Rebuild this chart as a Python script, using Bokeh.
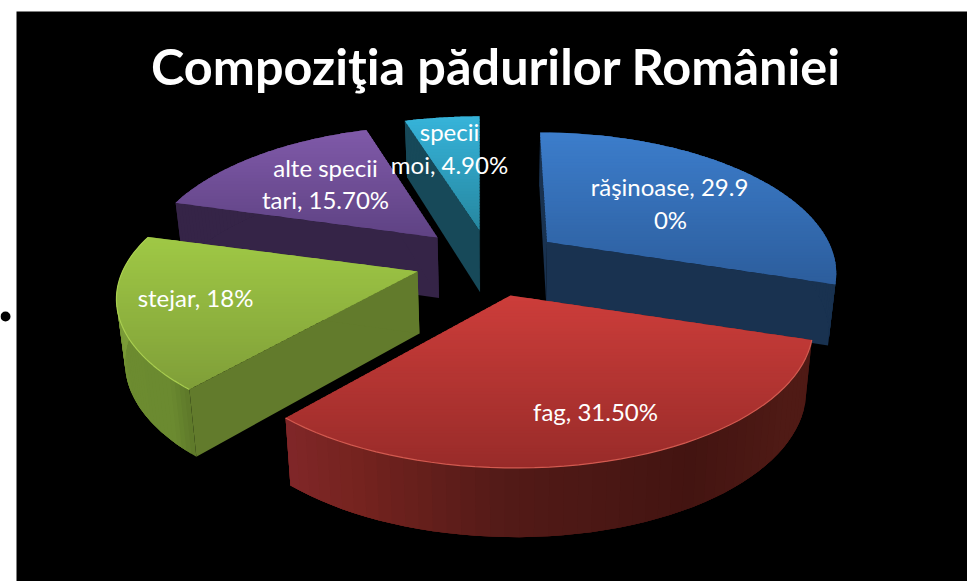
import numpy as np
from bokeh.embed import file_html
from bokeh.models import ColumnDataSource, Range1d
from bokeh.plotting import figure
from bokeh.resources import INLINE
from bokeh.core.properties import value

# ---- data -------------------------------------------------------------
title_text = "Compoziţia pădurilor României"
categories = ["răşinoase", "fag", "stejar", "alte specii tari", "specii moi"]
values = [29.9, 31.5, 18.0, 15.7, 4.9]
label_lines = [["răşinoase, 29.9", "0%"], ["fag, 31.50%"], ["stejar, 18%"],
               ["alte specii", "tari, 15.70%"], ["specii", "moi, 4.90%"]]

# ---- style / placement --------------------------------------------------
W, H = 967, 581
apex = [(546.5, 241.5), (510, 295), (417, 271), (437, 237), (479, 230)]
scale = [0.988, 1.0375, 1.035, 1.01, 1.03]
yscale = [1.0, 1.0, 0.965, 1.0, 1.0]
skew = [0.063, 0.03, 0.0, -0.02, 0.0]
top_grad = [("#3c7dcb", "#2c5d9c"), ("#cc3d3a", "#982b29"), ("#9fc845", "#7f9e38"),
            ("#7f59a8", "#5e4283"), ("#36b3d9", "#26869f")]
cut_col = ["#193250", "#4a1714", "#627b2c", "#352447", "#174959"]
side_stops = [
    [(90, "#193250"), (108, "#193250")],
    [(0, "#4f1a15"), (125, "#4f1a15"), (150, "#431411"), (180, "#521a17"), (205, "#75231f"), (222, "#82272a")],
    [(221, "#5f7a2a"), (226, "#6b8a30"), (245, "#6c8b30"), (262, "#7b9c38"), (290, "#7b9c38")],
    [(285, "#352447"), (345, "#352447")],
    [(342, "#174959"), (360, "#174959")],
]
rim_col = ["#3f80cf", "#d25a50", "#a9ce50", "#7f59a8", "#36b3d9"]
draw_order = [3, 4, 0, 2, 1]
A, B, D, DEPTH = 285.0, 133.0, 0.2, 60.0
LEAN_X, LEAN = 505.0, 0.022
label_pos = [[(669, 186), (670, 219)], [(595, 411)], [(195, 297)],
             [(325, 167), (325, 199)], [(449, 131), (449, 164)]]


def hex2rgb(c):
    return np.array([int(c[i:i + 2], 16) for i in (1, 3, 5)], float)


def rgb2hex(a):
    return "#%02x%02x%02x" % tuple(int(round(v)) for v in a)


def mix(c1, c2, t):
    return rgb2hex(hex2rgb(c1) * (1 - t) + hex2rgb(c2) * t)


def stop_color(stops, th):
    if th <= stops[0][0]:
        return stops[0][1]
    for (a, ca), (b, cb) in zip(stops, stops[1:]):
        if th <= b:
            return mix(ca, cb, (th - a) / (b - a))
    return stops[-1][1]


def rim(i, deg):
    t = np.radians(deg)
    w = 1 + D * np.cos(t)
    dx = A * np.sin(t) / w * scale[i]
    dy = -B * np.cos(t) / w * scale[i] * yscale[i]
    x = apex[i][0] + dx + skew[i] * dy
    y = apex[i][1] + dy
    return x, y, w


def drop(i, x, y, w):
    h = DEPTH * scale[i] / (1 + 0.5 * (w - 1))
    return x + (LEAN_X - x) * LEAN, y + h


def clip_band(poly, y0, y1):
    def clip(pts, keep, cross):
        out = []
        for k in range(len(pts)):
            a, b = pts[k], pts[(k + 1) % len(pts)]
            if keep(a):
                out.append(a)
            if keep(a) != keep(b):
                out.append(cross(a, b))
        return out
    c = lambda yy: (lambda a, b: (a[0] + (b[0] - a[0]) * (yy - a[1]) / (b[1] - a[1]), yy))
    pts = clip(poly, lambda p: p[1] >= y0, c(y0))
    if pts:
        pts = clip(pts, lambda p: p[1] <= y1, c(y1))
    return pts


p = figure(width=W, height=H, output_backend="svg", toolbar_location=None,
           x_range=Range1d(0, W), y_range=Range1d(H, 0), min_border=0,
           x_axis_type=None, y_axis_type=None,
           background_fill_color="white", border_fill_color="white", outline_line_color=None)
p.grid.visible = False
p.quad(left=16, right=W, top=11, bottom=H, fill_color="black", line_color=None)

xs, ys, cols = [], [], []


def add(poly, col):
    xs.append([q[0] for q in poly])
    ys.append([q[1] for q in poly])
    cols.append(col)


fractions = np.array(values) / sum(values)
edges = np.concatenate([[0], np.cumsum(fractions) * 360])
rim_lines = []

for i in draw_order:
    a0, a1 = edges[i], edges[i + 1]
    ths = np.linspace(a0, a1, 50)
    pts = [rim(i, th) for th in ths]
    top_ap = apex[i]
    bot_ap = drop(i, top_ap[0], top_ap[1], 1.0)
    # cut faces
    for (x, y, w) in (pts[0], pts[-1]):
        bx, by = drop(i, x, y, w)
        add([top_ap, (x, y), (bx, by), bot_ap], cut_col[i])
    # outer wall: each piece overlaps the next so that no seam shows
    for k in range(len(pts) - 1):
        j = min(k + 3, len(pts) - 1)
        mid = [pts[m] for m in range(k, j + 1)]
        upper = [(q[0], q[1]) for q in mid]
        lower = [drop(i, q[0], q[1], q[2]) for q in mid][::-1]
        add(upper + lower, stop_color(side_stops[i], float(ths[k])))
    # top face as horizontal bands, each running under the next
    poly = [top_ap] + [(q[0], q[1]) for q in pts]
    ymin, ymax = min(q[1] for q in poly), max(q[1] for q in poly)
    band = 3.0
    yy = ymin
    while yy < ymax:
        piece = clip_band(poly, yy, yy + band + 1.5)
        if len(piece) >= 3:
            add(piece, mix(top_grad[i][0], top_grad[i][1], (yy - ymin) / (ymax - ymin)))
        yy += band
    if i in (1, 2):
        rim_lines.append(([q[0] for q in pts], [q[1] for q in pts], rim_col[i]))

p.patches("xs", "ys", source=ColumnDataSource(dict(xs=xs, ys=ys, c=cols)),
          fill_color="c", line_color=None)
for lx, ly, lc in rim_lines:
    p.line(lx, ly, line_color=lc, line_width=1.2)

# bullet in the white margin
p.scatter([5], [316], size=10, marker="circle", fill_color="black", line_color=None)

# title
p.text([495.5], [64.5], text=[title_text], text_font=value("Lato"), text_font_style="bold",
       text_font_size="50.4px", text_color="white", text_align="center", text_baseline="middle")

# slice labels
tx, ty, tt = [], [], []
for lines, poss in zip(label_lines, label_pos):
    for s, (x, y) in zip(lines, poss):
        tx.append(x); ty.append(y); tt.append(s)
p.text(tx, ty, text=tt, text_font=value("Lato"), text_font_size="24px", text_color="white",
       text_align="center", text_baseline="middle")

open("out.html", "w").write(file_html(p, INLINE))
